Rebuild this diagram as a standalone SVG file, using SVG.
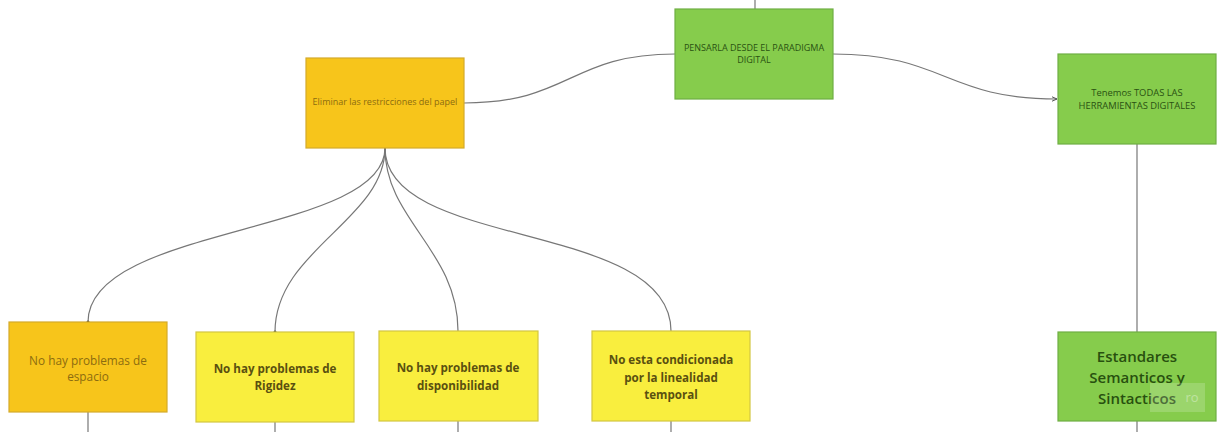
<svg xmlns="http://www.w3.org/2000/svg" width="1218" height="432" viewBox="0 0 1218 432">
<style>
  .orange{fill:#F7C51B;stroke:#D4AA2A;stroke-width:1.2}
  .yellow{fill:#F9EE3E;stroke:#D2C642;stroke-width:1.2}
  .green{fill:#86CC4C;stroke:#6FAE44;stroke-width:1.2}
  text{font-family:"Open Sans","Noto Sans","Liberation Sans",sans-serif;text-anchor:middle}
  .tg{fill:#2A5212;font-size:9px}
  .tg2{fill:#2A5212;font-size:9.4px}
  .to{fill:#8C6C10;font-size:9px}
  .to2{fill:#8C6C10;font-size:11.8px}
  .ty{fill:#5A5010;font-size:11.6px;font-weight:700}
  .big{fill:#28500F;font-size:15px;font-weight:600}
  .c{fill:none;stroke:#777;stroke-width:1.2}
</style>
<defs>
  <marker id="dot" markerWidth="4" markerHeight="4" refX="2" refY="2" markerUnits="userSpaceOnUse">
    <circle cx="2" cy="2" r="1.5" fill="#444"/>
  </marker>
  <marker id="arr" markerWidth="6" markerHeight="6" refX="5" refY="3" orient="auto" markerUnits="userSpaceOnUse">
    <path d="M0,0.8 L5,3 L0,5.2" fill="none" stroke="#555" stroke-width="1"/>
  </marker>
</defs>
<rect width="1218" height="432" fill="#ffffff"/>
<g id="connectors">
  <path class="c" d="M755,0 V9"/>
  <path class="c" d="M464,103 C570,103 570,54 675,54"/>
  <path class="c" d="M833,54 C945,54 945,99 1057,99" marker-end="url(#arr)"/>
  <path class="c" d="M1137,144 V332"/>
  <path class="c" d="M385,148 C385,235 88,225 88,322" marker-end="url(#dot)"/>
  <path class="c" d="M385,148 C385,220 275,250 275,332" marker-end="url(#dot)"/>
  <path class="c" d="M385,148 C385,220 458,250 458,331"/>
  <path class="c" d="M385,148 C385,250 671,220 671,331"/>
  <path class="c" d="M88,412 V432"/>
  <path class="c" d="M275,422 V432"/>
  <path class="c" d="M458,421 V432"/>
  <path class="c" d="M671,421 V432"/>
  <path class="c" d="M1137,421 V432"/>
</g>
<g id="pensarla">
  <rect class="green" x="675" y="9" width="158" height="90"/>
  <text class="tg" x="754" y="51">PENSARLA DESDE EL PARADIGMA</text>
  <text class="tg" x="754" y="63">DIGITAL</text>
</g>
<g id="eliminar">
  <rect class="orange" x="306" y="58" width="158" height="90"/>
  <text class="to" x="385" y="105">Eliminar las restricciones del papel</text>
</g>
<g id="tenemos">
  <rect class="green" x="1058" y="54" width="158" height="90"/>
  <text class="tg2" x="1137" y="96">Tenemos TODAS LAS</text>
  <text class="tg2" x="1137" y="109">HERRAMIENTAS DIGITALES</text>
</g>
<g id="estandares">
  <rect class="green" x="1058" y="332" width="158" height="89"/>
  <text class="big" x="1137" y="362">Estandares</text>
  <text class="big" x="1137" y="383">Semanticos y</text>
  <text class="big" x="1137" y="404">Sintacticos</text>
  <rect x="1150" y="383" width="55" height="29" fill="#ffffff" opacity="0.18"/>
  <text x="1192" y="402" style="font-size:13px;fill:#ffffff;opacity:0.35">ro</text>
</g>
<g id="espacio">
  <rect class="orange" x="9" y="322" width="158" height="90"/>
  <text class="to2" x="88" y="365">No hay problemas de</text>
  <text class="to2" x="88" y="381">espacio</text>
</g>
<g id="rigidez">
  <rect class="yellow" x="196" y="332" width="158" height="90"/>
  <text class="ty" x="275" y="373">No hay problemas de</text>
  <text class="ty" x="275" y="390">Rigidez</text>
</g>
<g id="disponibilidad">
  <rect class="yellow" x="379" y="331" width="159" height="90"/>
  <text class="ty" x="458" y="372">No hay problemas de</text>
  <text class="ty" x="458" y="390">disponibilidad</text>
</g>
<g id="linealidad">
  <rect class="yellow" x="592" y="331" width="158" height="90"/>
  <text class="ty" x="671" y="364">No esta condicionada</text>
  <text class="ty" x="671" y="382">por la linealidad</text>
  <text class="ty" x="671" y="399">temporal</text>
</g>
</svg>
